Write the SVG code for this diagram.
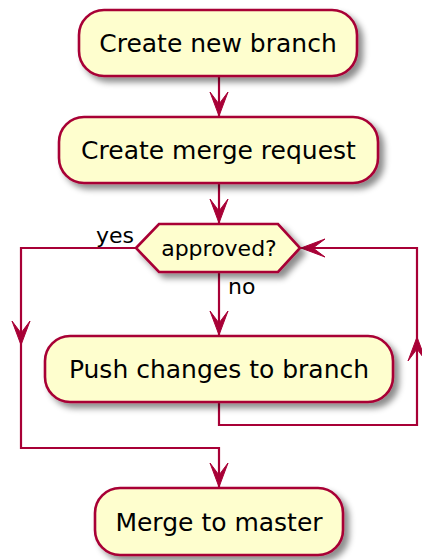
<svg xmlns="http://www.w3.org/2000/svg" width="422" height="560" viewBox="0 0 422 560">
  <defs>
    <filter id="shadow" x="-10%" y="-20%" width="130%" height="150%">
      <feGaussianBlur in="SourceAlpha" stdDeviation="3"/>
      <feOffset dx="5" dy="5" result="blur"/>
      <feFlood flood-color="#000000" flood-opacity="0.45"/>
      <feComposite in2="blur" operator="in" result="sh"/>
      <feMerge>
        <feMergeNode in="sh"/>
        <feMergeNode in="SourceGraphic"/>
      </feMerge>
    </filter>
  </defs>
  <style>
    .node { fill: #FEFECE; stroke: #A80036; stroke-width: 2.6; filter: url(#shadow); }
    .label { font-family: "DejaVu Sans", sans-serif; font-size: 25px; fill: #000000; text-anchor: middle; }
    .small { font-family: "DejaVu Sans", sans-serif; font-size: 22px; fill: #000000; }
    .edge { fill: none; stroke: #A80036; stroke-width: 2.2; }
    .head { fill: #A80036; stroke: #A80036; stroke-width: 1; }
  </style>

  <!-- connectors -->
  <g id="connectors">
    <!-- Create new branch -> Create merge request -->
    <path class="edge" d="M219,76 L219,116"/>
    <polygon class="head" points="210,92 219,116 228,92 219,104"/>
    <!-- Create merge request -> approved? -->
    <path class="edge" d="M219,183 L219,223"/>
    <polygon class="head" points="210,199 219,223 228,199 219,211"/>
    <!-- no: approved? -> Push changes -->
    <path class="edge" d="M219,272 L219,335"/>
    <polygon class="head" points="210,311 219,335 228,311 219,323"/>
    <text class="small" x="228" y="294">no</text>
    <!-- yes: approved? -> Merge to master -->
    <path class="edge" d="M136,248 L21,248 L21,448 L219,448 L219,487"/>
    <polygon class="head" points="12,321 21,345 30,321 21,333"/>
    <polygon class="head" points="210,463 219,487 228,463 219,475"/>
    <text class="small" x="134" y="243" text-anchor="end">yes</text>
    <!-- loop back: Push changes -> approved? -->
    <path class="edge" d="M219,402 L219,425 L417,425 L417,248 L301,248"/>
    <polygon class="head" points="408,361 417,337 426,361 417,349"/>
    <polygon class="head" points="325,239 301,248 325,257 313,248"/>
  </g>

  <g id="create-branch">
    <rect class="node" x="79" y="10" width="278" height="66" rx="25" ry="25"/>
    <text class="label" x="218" y="52">Create new branch</text>
  </g>

  <g id="create-mr">
    <rect class="node" x="59" y="117" width="319" height="66" rx="25" ry="25"/>
    <text class="label" x="218.5" y="159">Create merge request</text>
  </g>

  <g id="approved">
    <polygon class="node" points="136,248 159,224 278,224 300,248 278,272 159,272"/>
    <text class="small" x="219" y="256" text-anchor="middle">approved?</text>
  </g>

  <g id="push-changes">
    <rect class="node" x="45" y="336" width="348" height="66" rx="25" ry="25"/>
    <text class="label" x="219" y="378">Push changes to branch</text>
  </g>

  <g id="merge-master">
    <rect class="node" x="95" y="488" width="248" height="67" rx="25" ry="25"/>
    <text class="label" x="219" y="531">Merge to master</text>
  </g>
</svg>
